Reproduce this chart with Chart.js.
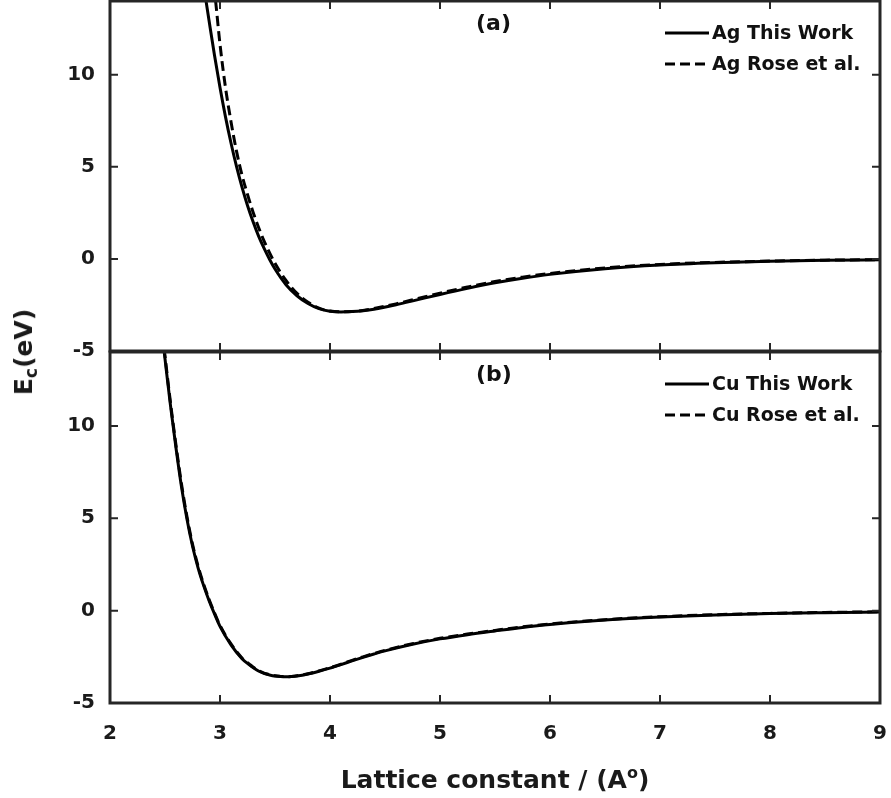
<!DOCTYPE html>
<html>
<head>
<meta charset="utf-8">
<script src="https://cdn.jsdelivr.net/npm/chart.js@4.4.1/dist/chart.umd.min.js"></script>
<style>
  html, body { margin: 0; padding: 0; background: #fff; }
  #wrap { position: relative; width: 891px; height: 798px; overflow: hidden;
          font-family: "DejaVu Sans", sans-serif; font-weight: bold; color: #1a1a1a; }
  canvas { position: absolute; left: 0; }
  #topPanel { top: 0; }
  #botPanel { top: 350px; }
  #ylab { position: absolute; left: 25px; top: 352px; white-space: nowrap; font-size: 25px;
          transform: translate(-50%, -50%) rotate(-90deg); }
  #ylab sub { font-size: 17px; vertical-align: -5px; }
  #xlab { position: absolute; left: 495px; top: 778px; white-space: nowrap; font-size: 25px;
          transform: translate(-50%, -50%); }
  #xlab sup { font-size: 16px; vertical-align: 10px; }
</style>
</head>
<body>
<div id="wrap">
  <canvas id="topPanel" width="891" height="372" style="width:891px;height:372px"></canvas>
  <canvas id="botPanel" width="891" height="448" style="width:891px;height:448px"></canvas>
  <div id="ylab">E<sub>c</sub>(eV)</div>
  <div id="xlab">Lattice constant / (A<sup>o</sup>)</div>
</div>
<script>
// Axis ticks shared by both panels
const xTicks = [2, 3, 4, 5, 6, 7, 8, 9];
const yTicks = [-5, 0, 5, 10];

// Panel (a): Ag cohesive energy vs lattice constant
const agWorkX = [2.86, 2.9, 2.95, 3.0, 3.05, 3.1, 3.15, 3.2, 3.25, 3.3, 3.35, 3.4, 3.45, 3.5, 3.6, 3.7, 3.8, 3.9, 4.0, 4.1,
                 4.2, 4.3, 4.4, 4.6, 4.8, 5.0, 5.25, 5.5, 5.75, 6.0, 6.5, 7.0, 7.5, 8.0, 8.5, 9.0];
const agWorkE = [14.5, 12.95, 11.05, 9.3, 7.71, 6.29, 5.02, 3.9, 2.9, 2.03, 1.25, 0.58, -0.02, -0.55, -1.4, -2.0, -2.42, -2.7, -2.84, -2.88,
                 -2.86, -2.81, -2.73, -2.49, -2.21, -1.93, -1.6, -1.3, -1.05, -0.84, -0.53, -0.33, -0.21, -0.13, -0.08, -0.05];
const agRoseX = [2.945, 2.96, 3.0, 3.05, 3.1, 3.15, 3.2, 3.25, 3.3, 3.35, 3.4, 3.45, 3.5, 3.6, 3.7, 3.8, 3.9, 4.0, 4.1, 4.2,
                 4.3, 4.4, 4.6, 4.8, 5.0, 5.25, 5.5, 5.75, 6.0, 6.5, 7.0, 7.5, 8.0, 8.5, 9.0];
const agRoseE = [14.8, 14.0, 11.65, 9.3, 7.45, 5.85, 4.55, 3.5, 2.55, 1.72, 0.98, 0.34, -0.24, -1.17, -1.87, -2.35, -2.67, -2.83, -2.875, -2.86,
                 -2.8, -2.69, -2.44, -2.15, -1.86, -1.53, -1.23, -0.99, -0.79, -0.49, -0.3, -0.19, -0.12, -0.07, -0.04];

// Panel (b): Cu cohesive energy vs lattice constant
const cuX = [2.475, 2.49, 2.52, 2.55, 2.6, 2.65, 2.7, 2.75, 2.8, 2.85, 2.9, 2.95, 3.0, 3.1, 3.2, 3.27, 3.3, 3.35, 3.4, 3.45,
             3.5, 3.55, 3.6, 3.65, 3.7, 3.8, 3.9, 4.0, 4.1, 4.2, 4.3, 4.4, 4.5, 4.75, 5.0, 5.25, 5.5, 5.75, 6.0, 6.5,
             7.0, 7.5, 8.0, 8.5, 9.0];
const cuWorkE = [15.0, 14.15, 12.6, 11.1, 8.8, 6.7, 4.95, 3.5, 2.33, 1.38, 0.55, -0.18, -0.85, -1.85, -2.6, -2.95, -3.08, -3.27, -3.4, -3.48,
                 -3.54, -3.57, -3.58, -3.57, -3.54, -3.43, -3.28, -3.11, -2.92, -2.72, -2.53, -2.35, -2.18, -1.82, -1.53, -1.3, -1.1, -0.91, -0.75, -0.51,
                 -0.35, -0.24, -0.16, -0.11, -0.07];
const cuRoseE = [15.0, 14.3, 12.75, 11.25, 8.95, 6.85, 5.08, 3.6, 2.42, 1.45, 0.62, -0.12, -0.8, -1.8, -2.56, -2.91, -3.05, -3.24, -3.38, -3.46,
                 -3.53, -3.56, -3.575, -3.565, -3.53, -3.415, -3.26, -3.09, -2.9, -2.69, -2.5, -2.32, -2.15, -1.79, -1.5, -1.27, -1.07, -0.88, -0.72, -0.49,
                 -0.33, -0.22, -0.15, -0.1, -0.06];

const INK = '#262626';
Chart.defaults.font.family = "'DejaVu Sans', sans-serif";
Chart.defaults.font.weight = 'bold';
Chart.defaults.color = '#1a1a1a';

const pts = (xs, ys) => xs.map((x, i) => ({ x, y: ys[i] }));

function series(label, xs, ys, dash) {
  return {
    label, data: pts(xs, ys),
    borderColor: '#000', borderWidth: 3, borderDash: dash,
    pointRadius: 0, cubicInterpolationMode: 'monotone',
    clip: { left: 0, top: 0, right: 2, bottom: 2 }
  };
}

// Box frame with inward ticks, in-axes legend and panel tag
const panelDecor = {
  id: 'panelDecor',
  afterDatasetsDraw(chart, args, opts) {
    const { ctx, chartArea: a, scales: { x, y } } = chart;
    ctx.save();
    ctx.strokeStyle = INK;
    ctx.setLineDash([]);
    ctx.lineWidth = 2;
    ctx.beginPath();
    xTicks.forEach(v => {
      const px = x.getPixelForValue(v);
      ctx.moveTo(px, a.bottom); ctx.lineTo(px, a.bottom - 8);
      ctx.moveTo(px, a.top); ctx.lineTo(px, a.top + 8);
    });
    yTicks.forEach(v => {
      const py = y.getPixelForValue(v);
      ctx.moveTo(a.left, py); ctx.lineTo(a.left + 8, py);
      ctx.moveTo(a.right, py); ctx.lineTo(a.right - 8, py);
    });
    ctx.stroke();
    ctx.lineWidth = 3;
    ctx.strokeRect(a.left, a.top, a.right - a.left, a.bottom - a.top);

    // panel tag
    ctx.fillStyle = '#111';
    ctx.font = "bold 22px 'DejaVu Sans'";
    ctx.textBaseline = 'middle';
    ctx.textAlign = 'left';
    ctx.fillText(opts.tag, a.left + 366, a.top + 23);

    // legend rows
    ctx.font = "bold 19px 'DejaVu Sans'";
    chart.data.datasets.forEach((ds, i) => {
      const cy = a.top + 32 + i * 31;
      ctx.strokeStyle = '#000';
      ctx.lineWidth = 3;
      ctx.setLineDash(ds.borderDash || []);
      ctx.beginPath();
      ctx.moveTo(a.left + 555, cy); ctx.lineTo(a.left + 599, cy);
      ctx.stroke();
      ctx.fillText(ds.label, a.left + 602, cy + 1);
    });
    ctx.restore();
  }
};

function noPad(s) { s.paddingTop = 0; s.paddingBottom = 0; s.paddingLeft = 0; s.paddingRight = 0; }

function makePanel(id, datasets, tag, showX, padding) {
  return new Chart(document.getElementById(id), {
    type: 'line',
    data: { datasets },
    options: {
      responsive: false, animation: false, events: [],
      layout: { padding, autoPadding: false },
      plugins: { legend: { display: false }, tooltip: { enabled: false }, panelDecor: { tag } },
      scales: {
        x: {
          type: 'linear', min: 2, max: 9, display: showX,
          afterBuildTicks: s => { s.ticks = xTicks.map(v => ({ value: v })); },
          ticks: { font: { size: 20, weight: 'bold' }, color: '#1a1a1a', padding: 19 },
          grid: { display: false, drawTicks: false }, border: { display: false },
          afterFit: s => { s.height = showX ? 95 : 0; noPad(s); }
        },
        y: {
          type: 'linear', min: -5, max: 14,
          afterBuildTicks: s => { s.ticks = yTicks.map(v => ({ value: v })); },
          ticks: { font: { size: 20, weight: 'bold' }, color: '#1a1a1a', padding: 15 },
          grid: { display: false, drawTicks: false }, border: { display: false },
          afterFit: s => { s.width = 110; noPad(s); }
        }
      }
    },
    plugins: [panelDecor]
  });
}

makePanel('topPanel', [
  series('Ag This Work', agWorkX, agWorkE, []),
  series('Ag Rose et al.', agRoseX, agRoseE, [10, 5])
], '(a)', false, { left: 0, right: 11, top: 1, bottom: 21 });

makePanel('botPanel', [
  series('Cu This Work', cuX, cuWorkE, []),
  series('Cu Rose et al.', cuX, cuRoseE, [10, 5])
], '(b)', true, { left: 0, right: 11, top: 2, bottom: 0 });
</script>
</body>
</html>
